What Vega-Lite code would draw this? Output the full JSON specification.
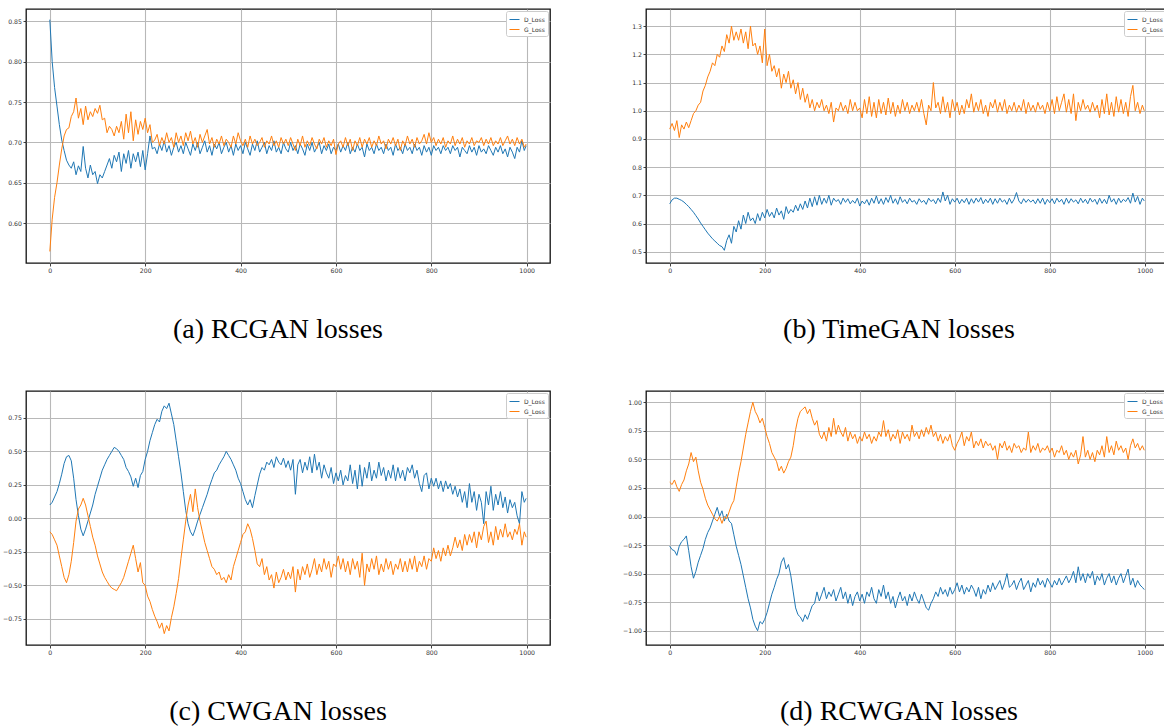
{
"$schema":"https://vega.github.io/schema/vega-lite/v6.json",
"padding":{"left":1,"top":8,"right":0,"bottom":0},
"background":"white",
"columns":2,
"spacing":{"row":128,"column":96},
"bounds":"flush",
"config":{
 "view":{"stroke":"#111","strokeWidth":1.3},
 "axis":{"domain":false,"grid":true,"gridColor":"#b8b8b8","gridWidth":1.1,"tickColor":"#111","tickSize":3,"tickWidth":0.8,"labelFont":"DejaVu Sans","labelFontSize":6.2,"labelColor":"#333","labelPadding":1.5,"title":null},
 "legend":{"orient":"top-right","offset":2,"padding":3,"fillColor":"white","strokeColor":"#cccccc","cornerRadius":2,"symbolType":"stroke","symbolSize":100,"symbolStrokeWidth":1.5,"labelFont":"DejaVu Sans","labelFontSize":6,"labelColor":"#333","rowPadding":1,"title":null},
 "line":{"strokeWidth":1}
},
"datasets":{
"a":[
{"x":0,"D_Loss":0.852,"G_Loss":0.565},{"x":5,"D_Loss":0.800,"G_Loss":0.605},{"x":10,"D_Loss":0.768,"G_Loss":0.632},{"x":15,"D_Loss":0.745,"G_Loss":0.650},{"x":20,"D_Loss":0.722,"G_Loss":0.672},{"x":25,"D_Loss":0.703,"G_Loss":0.692},{"x":30,"D_Loss":0.690,"G_Loss":0.708},{"x":35,"D_Loss":0.678,"G_Loss":0.716},{"x":40,"D_Loss":0.672,"G_Loss":0.718},{"x":45,"D_Loss":0.668,"G_Loss":0.732},
{"x":50,"D_Loss":0.676,"G_Loss":0.738},{"x":55,"D_Loss":0.660,"G_Loss":0.755},{"x":60,"D_Loss":0.671,"G_Loss":0.730},{"x":65,"D_Loss":0.664,"G_Loss":0.742},{"x":70,"D_Loss":0.695,"G_Loss":0.722},{"x":75,"D_Loss":0.668,"G_Loss":0.745},{"x":80,"D_Loss":0.656,"G_Loss":0.728},{"x":85,"D_Loss":0.672,"G_Loss":0.738},{"x":90,"D_Loss":0.660,"G_Loss":0.732},{"x":95,"D_Loss":0.664,"G_Loss":0.742},
{"x":100,"D_Loss":0.649,"G_Loss":0.736},{"x":105,"D_Loss":0.660,"G_Loss":0.746},{"x":110,"D_Loss":0.656,"G_Loss":0.728},{"x":115,"D_Loss":0.664,"G_Loss":0.730},{"x":120,"D_Loss":0.672,"G_Loss":0.712},{"x":125,"D_Loss":0.680,"G_Loss":0.720},{"x":130,"D_Loss":0.668,"G_Loss":0.716},{"x":135,"D_Loss":0.684,"G_Loss":0.708},{"x":140,"D_Loss":0.676,"G_Loss":0.720},{"x":145,"D_Loss":0.688,"G_Loss":0.712},
{"x":150,"D_Loss":0.664,"G_Loss":0.726},{"x":155,"D_Loss":0.686,"G_Loss":0.704},{"x":160,"D_Loss":0.674,"G_Loss":0.735},{"x":165,"D_Loss":0.690,"G_Loss":0.712},{"x":170,"D_Loss":0.668,"G_Loss":0.738},{"x":175,"D_Loss":0.686,"G_Loss":0.702},{"x":180,"D_Loss":0.676,"G_Loss":0.728},{"x":185,"D_Loss":0.688,"G_Loss":0.710},{"x":190,"D_Loss":0.670,"G_Loss":0.726},{"x":195,"D_Loss":0.690,"G_Loss":0.716},
{"x":200,"D_Loss":0.666,"G_Loss":0.730},{"x":205,"D_Loss":0.686,"G_Loss":0.712},{"x":210,"D_Loss":0.708,"G_Loss":0.722},{"x":215,"D_Loss":0.692,"G_Loss":0.700},{"x":220,"D_Loss":0.694,"G_Loss":0.703},{"x":225,"D_Loss":0.686,"G_Loss":0.710},{"x":230,"D_Loss":0.698,"G_Loss":0.696},{"x":235,"D_Loss":0.690,"G_Loss":0.706},{"x":240,"D_Loss":0.702,"G_Loss":0.698},{"x":245,"D_Loss":0.688,"G_Loss":0.712},
{"x":250,"D_Loss":0.696,"G_Loss":0.700},{"x":255,"D_Loss":0.684,"G_Loss":0.706},{"x":260,"D_Loss":0.694,"G_Loss":0.694},{"x":265,"D_Loss":0.700,"G_Loss":0.712},{"x":270,"D_Loss":0.688,"G_Loss":0.700},{"x":275,"D_Loss":0.696,"G_Loss":0.708},{"x":280,"D_Loss":0.686,"G_Loss":0.696},{"x":285,"D_Loss":0.700,"G_Loss":0.712},{"x":290,"D_Loss":0.692,"G_Loss":0.702},{"x":295,"D_Loss":0.684,"G_Loss":0.714},
{"x":300,"D_Loss":0.698,"G_Loss":0.698},{"x":305,"D_Loss":0.690,"G_Loss":0.706},{"x":310,"D_Loss":0.700,"G_Loss":0.694},{"x":315,"D_Loss":0.686,"G_Loss":0.710},{"x":320,"D_Loss":0.694,"G_Loss":0.700},{"x":325,"D_Loss":0.702,"G_Loss":0.708},{"x":330,"D_Loss":0.688,"G_Loss":0.716},{"x":335,"D_Loss":0.696,"G_Loss":0.698},{"x":340,"D_Loss":0.684,"G_Loss":0.706},{"x":345,"D_Loss":0.698,"G_Loss":0.694},
{"x":350,"D_Loss":0.692,"G_Loss":0.704},{"x":355,"D_Loss":0.700,"G_Loss":0.698},{"x":360,"D_Loss":0.686,"G_Loss":0.708},{"x":365,"D_Loss":0.694,"G_Loss":0.696},{"x":370,"D_Loss":0.700,"G_Loss":0.704},{"x":375,"D_Loss":0.688,"G_Loss":0.700},{"x":380,"D_Loss":0.696,"G_Loss":0.694},{"x":385,"D_Loss":0.684,"G_Loss":0.708},{"x":390,"D_Loss":0.698,"G_Loss":0.698},{"x":395,"D_Loss":0.690,"G_Loss":0.712},
{"x":400,"D_Loss":0.696,"G_Loss":0.702},{"x":405,"D_Loss":0.686,"G_Loss":0.696},{"x":410,"D_Loss":0.700,"G_Loss":0.704},{"x":415,"D_Loss":0.692,"G_Loss":0.694},{"x":420,"D_Loss":0.684,"G_Loss":0.708},{"x":425,"D_Loss":0.698,"G_Loss":0.698},{"x":430,"D_Loss":0.690,"G_Loss":0.704},{"x":435,"D_Loss":0.702,"G_Loss":0.696},{"x":440,"D_Loss":0.688,"G_Loss":0.700},{"x":445,"D_Loss":0.694,"G_Loss":0.706},
{"x":450,"D_Loss":0.700,"G_Loss":0.694},{"x":455,"D_Loss":0.686,"G_Loss":0.702},{"x":460,"D_Loss":0.696,"G_Loss":0.698},{"x":465,"D_Loss":0.690,"G_Loss":0.708},{"x":470,"D_Loss":0.702,"G_Loss":0.696},{"x":475,"D_Loss":0.688,"G_Loss":0.702},{"x":480,"D_Loss":0.694,"G_Loss":0.694},{"x":485,"D_Loss":0.686,"G_Loss":0.706},{"x":490,"D_Loss":0.700,"G_Loss":0.698},{"x":495,"D_Loss":0.692,"G_Loss":0.704},
{"x":500,"D_Loss":0.688,"G_Loss":0.696},{"x":505,"D_Loss":0.700,"G_Loss":0.706},{"x":510,"D_Loss":0.690,"G_Loss":0.698},{"x":515,"D_Loss":0.696,"G_Loss":0.690},{"x":520,"D_Loss":0.686,"G_Loss":0.704},{"x":525,"D_Loss":0.698,"G_Loss":0.696},{"x":530,"D_Loss":0.692,"G_Loss":0.708},{"x":535,"D_Loss":0.684,"G_Loss":0.694},{"x":540,"D_Loss":0.698,"G_Loss":0.702},{"x":545,"D_Loss":0.690,"G_Loss":0.696},
{"x":550,"D_Loss":0.700,"G_Loss":0.706},{"x":555,"D_Loss":0.688,"G_Loss":0.698},{"x":560,"D_Loss":0.694,"G_Loss":0.692},{"x":565,"D_Loss":0.700,"G_Loss":0.704},{"x":570,"D_Loss":0.686,"G_Loss":0.698},{"x":575,"D_Loss":0.696,"G_Loss":0.706},{"x":580,"D_Loss":0.690,"G_Loss":0.694},{"x":585,"D_Loss":0.698,"G_Loss":0.702},{"x":590,"D_Loss":0.686,"G_Loss":0.696},{"x":595,"D_Loss":0.694,"G_Loss":0.704},
{"x":600,"D_Loss":0.690,"G_Loss":0.685},{"x":605,"D_Loss":0.698,"G_Loss":0.698},{"x":610,"D_Loss":0.688,"G_Loss":0.702},{"x":615,"D_Loss":0.696,"G_Loss":0.694},{"x":620,"D_Loss":0.690,"G_Loss":0.706},{"x":625,"D_Loss":0.700,"G_Loss":0.696},{"x":630,"D_Loss":0.686,"G_Loss":0.704},{"x":635,"D_Loss":0.694,"G_Loss":0.690},{"x":640,"D_Loss":0.688,"G_Loss":0.702},{"x":645,"D_Loss":0.698,"G_Loss":0.696},
{"x":650,"D_Loss":0.690,"G_Loss":0.706},{"x":655,"D_Loss":0.694,"G_Loss":0.694},{"x":660,"D_Loss":0.682,"G_Loss":0.704},{"x":665,"D_Loss":0.698,"G_Loss":0.698},{"x":670,"D_Loss":0.690,"G_Loss":0.706},{"x":675,"D_Loss":0.694,"G_Loss":0.694},{"x":680,"D_Loss":0.686,"G_Loss":0.702},{"x":685,"D_Loss":0.698,"G_Loss":0.696},{"x":690,"D_Loss":0.690,"G_Loss":0.708},{"x":695,"D_Loss":0.694,"G_Loss":0.698},
{"x":700,"D_Loss":0.686,"G_Loss":0.702},{"x":705,"D_Loss":0.698,"G_Loss":0.692},{"x":710,"D_Loss":0.690,"G_Loss":0.704},{"x":715,"D_Loss":0.694,"G_Loss":0.698},{"x":720,"D_Loss":0.684,"G_Loss":0.706},{"x":725,"D_Loss":0.698,"G_Loss":0.696},{"x":730,"D_Loss":0.690,"G_Loss":0.704},{"x":735,"D_Loss":0.694,"G_Loss":0.690},{"x":740,"D_Loss":0.686,"G_Loss":0.702},{"x":745,"D_Loss":0.698,"G_Loss":0.696},
{"x":750,"D_Loss":0.690,"G_Loss":0.708},{"x":755,"D_Loss":0.694,"G_Loss":0.698},{"x":760,"D_Loss":0.686,"G_Loss":0.704},{"x":765,"D_Loss":0.698,"G_Loss":0.694},{"x":770,"D_Loss":0.690,"G_Loss":0.706},{"x":775,"D_Loss":0.694,"G_Loss":0.698},{"x":780,"D_Loss":0.684,"G_Loss":0.702},{"x":785,"D_Loss":0.696,"G_Loss":0.710},{"x":790,"D_Loss":0.688,"G_Loss":0.698},{"x":795,"D_Loss":0.694,"G_Loss":0.712},
{"x":800,"D_Loss":0.684,"G_Loss":0.700},{"x":805,"D_Loss":0.696,"G_Loss":0.706},{"x":810,"D_Loss":0.690,"G_Loss":0.696},{"x":815,"D_Loss":0.694,"G_Loss":0.704},{"x":820,"D_Loss":0.686,"G_Loss":0.698},{"x":825,"D_Loss":0.696,"G_Loss":0.706},{"x":830,"D_Loss":0.690,"G_Loss":0.694},{"x":835,"D_Loss":0.694,"G_Loss":0.702},{"x":840,"D_Loss":0.686,"G_Loss":0.698},{"x":845,"D_Loss":0.696,"G_Loss":0.708},
{"x":850,"D_Loss":0.690,"G_Loss":0.696},{"x":855,"D_Loss":0.694,"G_Loss":0.704},{"x":860,"D_Loss":0.682,"G_Loss":0.698},{"x":865,"D_Loss":0.694,"G_Loss":0.706},{"x":870,"D_Loss":0.690,"G_Loss":0.694},{"x":875,"D_Loss":0.686,"G_Loss":0.702},{"x":880,"D_Loss":0.696,"G_Loss":0.698},{"x":885,"D_Loss":0.688,"G_Loss":0.706},{"x":890,"D_Loss":0.694,"G_Loss":0.696},{"x":895,"D_Loss":0.684,"G_Loss":0.702},
{"x":900,"D_Loss":0.696,"G_Loss":0.700},{"x":905,"D_Loss":0.688,"G_Loss":0.706},{"x":910,"D_Loss":0.692,"G_Loss":0.696},{"x":915,"D_Loss":0.686,"G_Loss":0.704},{"x":920,"D_Loss":0.696,"G_Loss":0.698},{"x":925,"D_Loss":0.690,"G_Loss":0.706},{"x":930,"D_Loss":0.684,"G_Loss":0.696},{"x":935,"D_Loss":0.694,"G_Loss":0.702},{"x":940,"D_Loss":0.688,"G_Loss":0.698},{"x":945,"D_Loss":0.696,"G_Loss":0.706},
{"x":950,"D_Loss":0.686,"G_Loss":0.696},{"x":955,"D_Loss":0.692,"G_Loss":0.702},{"x":960,"D_Loss":0.682,"G_Loss":0.708},{"x":965,"D_Loss":0.694,"G_Loss":0.698},{"x":970,"D_Loss":0.688,"G_Loss":0.704},{"x":975,"D_Loss":0.680,"G_Loss":0.696},{"x":980,"D_Loss":0.694,"G_Loss":0.706},{"x":985,"D_Loss":0.688,"G_Loss":0.698},{"x":990,"D_Loss":0.702,"G_Loss":0.704},{"x":995,"D_Loss":0.690,"G_Loss":0.694},{"x":999,"D_Loss":0.696,"G_Loss":0.698}
],
"b":[
{"x":0,"D_Loss":0.670,"G_Loss":0.935},{"x":5,"D_Loss":0.684,"G_Loss":0.955},{"x":10,"D_Loss":0.690,"G_Loss":0.930},{"x":15,"D_Loss":0.690,"G_Loss":0.965},{"x":20,"D_Loss":0.686,"G_Loss":0.905},{"x":25,"D_Loss":0.682,"G_Loss":0.950},{"x":30,"D_Loss":0.676,"G_Loss":0.935},{"x":35,"D_Loss":0.668,"G_Loss":0.960},{"x":40,"D_Loss":0.660,"G_Loss":0.940},{"x":45,"D_Loss":0.650,"G_Loss":0.965},
{"x":50,"D_Loss":0.640,"G_Loss":0.990},{"x":55,"D_Loss":0.628,"G_Loss":1.000},{"x":60,"D_Loss":0.616,"G_Loss":1.020},{"x":65,"D_Loss":0.602,"G_Loss":1.030},{"x":70,"D_Loss":0.590,"G_Loss":1.070},{"x":75,"D_Loss":0.578,"G_Loss":1.090},{"x":80,"D_Loss":0.566,"G_Loss":1.120},{"x":85,"D_Loss":0.556,"G_Loss":1.140},{"x":90,"D_Loss":0.546,"G_Loss":1.170},{"x":95,"D_Loss":0.538,"G_Loss":1.160},
{"x":100,"D_Loss":0.530,"G_Loss":1.200},{"x":105,"D_Loss":0.522,"G_Loss":1.190},{"x":110,"D_Loss":0.518,"G_Loss":1.230},{"x":115,"D_Loss":0.505,"G_Loss":1.210},{"x":120,"D_Loss":0.540,"G_Loss":1.270},{"x":125,"D_Loss":0.560,"G_Loss":1.240},{"x":130,"D_Loss":0.530,"G_Loss":1.300},{"x":135,"D_Loss":0.590,"G_Loss":1.250},{"x":140,"D_Loss":0.570,"G_Loss":1.280},{"x":145,"D_Loss":0.610,"G_Loss":1.250},
{"x":150,"D_Loss":0.580,"G_Loss":1.290},{"x":155,"D_Loss":0.630,"G_Loss":1.240},{"x":160,"D_Loss":0.600,"G_Loss":1.280},{"x":165,"D_Loss":0.640,"G_Loss":1.220},{"x":170,"D_Loss":0.610,"G_Loss":1.300},{"x":175,"D_Loss":0.620,"G_Loss":1.230},{"x":180,"D_Loss":0.600,"G_Loss":1.240},{"x":185,"D_Loss":0.635,"G_Loss":1.200},{"x":190,"D_Loss":0.610,"G_Loss":1.230},{"x":195,"D_Loss":0.640,"G_Loss":1.170},
{"x":200,"D_Loss":0.620,"G_Loss":1.290},{"x":205,"D_Loss":0.650,"G_Loss":1.160},{"x":210,"D_Loss":0.625,"G_Loss":1.200},{"x":215,"D_Loss":0.640,"G_Loss":1.140},{"x":220,"D_Loss":0.620,"G_Loss":1.160},{"x":225,"D_Loss":0.655,"G_Loss":1.120},{"x":230,"D_Loss":0.630,"G_Loss":1.150},{"x":235,"D_Loss":0.645,"G_Loss":1.080},{"x":240,"D_Loss":0.615,"G_Loss":1.130},{"x":245,"D_Loss":0.660,"G_Loss":1.100},
{"x":250,"D_Loss":0.635,"G_Loss":1.140},{"x":255,"D_Loss":0.650,"G_Loss":1.080},{"x":260,"D_Loss":0.640,"G_Loss":1.110},{"x":265,"D_Loss":0.665,"G_Loss":1.060},{"x":270,"D_Loss":0.645,"G_Loss":1.100},{"x":275,"D_Loss":0.670,"G_Loss":1.040},{"x":280,"D_Loss":0.650,"G_Loss":1.080},{"x":285,"D_Loss":0.680,"G_Loss":1.030},{"x":290,"D_Loss":0.655,"G_Loss":1.060},{"x":295,"D_Loss":0.690,"G_Loss":1.010},
{"x":300,"D_Loss":0.660,"G_Loss":1.040},{"x":305,"D_Loss":0.695,"G_Loss":1.000},{"x":310,"D_Loss":0.665,"G_Loss":1.030},{"x":315,"D_Loss":0.700,"G_Loss":1.010},{"x":320,"D_Loss":0.668,"G_Loss":1.040},{"x":325,"D_Loss":0.690,"G_Loss":1.000},{"x":330,"D_Loss":0.672,"G_Loss":1.020},{"x":335,"D_Loss":0.700,"G_Loss":0.990},{"x":340,"D_Loss":0.665,"G_Loss":1.030},{"x":345,"D_Loss":0.690,"G_Loss":0.960},
{"x":350,"D_Loss":0.678,"G_Loss":1.010},{"x":355,"D_Loss":0.685,"G_Loss":1.000},{"x":360,"D_Loss":0.668,"G_Loss":1.030},{"x":365,"D_Loss":0.690,"G_Loss":1.000},{"x":370,"D_Loss":0.675,"G_Loss":1.020},{"x":375,"D_Loss":0.688,"G_Loss":0.990},{"x":380,"D_Loss":0.670,"G_Loss":1.040},{"x":385,"D_Loss":0.682,"G_Loss":1.000},{"x":390,"D_Loss":0.672,"G_Loss":1.030},{"x":395,"D_Loss":0.690,"G_Loss":1.000},
{"x":400,"D_Loss":0.662,"G_Loss":1.010},{"x":405,"D_Loss":0.680,"G_Loss":0.975},{"x":410,"D_Loss":0.670,"G_Loss":1.040},{"x":415,"D_Loss":0.685,"G_Loss":0.990},{"x":420,"D_Loss":0.665,"G_Loss":1.050},{"x":425,"D_Loss":0.690,"G_Loss":0.980},{"x":430,"D_Loss":0.672,"G_Loss":1.030},{"x":435,"D_Loss":0.698,"G_Loss":0.975},{"x":440,"D_Loss":0.670,"G_Loss":1.040},{"x":445,"D_Loss":0.688,"G_Loss":0.990},
{"x":450,"D_Loss":0.668,"G_Loss":1.030},{"x":455,"D_Loss":0.692,"G_Loss":0.985},{"x":460,"D_Loss":0.675,"G_Loss":1.045},{"x":465,"D_Loss":0.700,"G_Loss":0.990},{"x":470,"D_Loss":0.672,"G_Loss":1.030},{"x":475,"D_Loss":0.688,"G_Loss":0.980},{"x":480,"D_Loss":0.668,"G_Loss":1.020},{"x":485,"D_Loss":0.695,"G_Loss":0.990},{"x":490,"D_Loss":0.675,"G_Loss":1.040},{"x":495,"D_Loss":0.685,"G_Loss":1.000},
{"x":500,"D_Loss":0.670,"G_Loss":1.030},{"x":505,"D_Loss":0.690,"G_Loss":0.990},{"x":510,"D_Loss":0.676,"G_Loss":1.020},{"x":515,"D_Loss":0.682,"G_Loss":1.000},{"x":520,"D_Loss":0.668,"G_Loss":1.030},{"x":525,"D_Loss":0.688,"G_Loss":0.995},{"x":530,"D_Loss":0.675,"G_Loss":1.040},{"x":535,"D_Loss":0.682,"G_Loss":0.990},{"x":540,"D_Loss":0.668,"G_Loss":0.950},{"x":545,"D_Loss":0.690,"G_Loss":1.020},
{"x":550,"D_Loss":0.678,"G_Loss":1.000},{"x":555,"D_Loss":0.685,"G_Loss":1.100},{"x":560,"D_Loss":0.670,"G_Loss":1.010},{"x":565,"D_Loss":0.690,"G_Loss":1.030},{"x":570,"D_Loss":0.675,"G_Loss":0.990},{"x":575,"D_Loss":0.712,"G_Loss":1.050},{"x":580,"D_Loss":0.680,"G_Loss":0.995},{"x":585,"D_Loss":0.700,"G_Loss":1.030},{"x":590,"D_Loss":0.668,"G_Loss":0.975},{"x":595,"D_Loss":0.688,"G_Loss":1.040},
{"x":600,"D_Loss":0.676,"G_Loss":1.000},{"x":605,"D_Loss":0.690,"G_Loss":1.030},{"x":610,"D_Loss":0.670,"G_Loss":0.985},{"x":615,"D_Loss":0.686,"G_Loss":1.020},{"x":620,"D_Loss":0.674,"G_Loss":0.990},{"x":625,"D_Loss":0.690,"G_Loss":1.040},{"x":630,"D_Loss":0.668,"G_Loss":1.010},{"x":635,"D_Loss":0.688,"G_Loss":1.060},{"x":640,"D_Loss":0.672,"G_Loss":0.995},{"x":645,"D_Loss":0.690,"G_Loss":1.030},
{"x":650,"D_Loss":0.676,"G_Loss":1.000},{"x":655,"D_Loss":0.692,"G_Loss":1.040},{"x":660,"D_Loss":0.670,"G_Loss":0.990},{"x":665,"D_Loss":0.686,"G_Loss":1.020},{"x":670,"D_Loss":0.674,"G_Loss":0.980},{"x":675,"D_Loss":0.690,"G_Loss":1.030},{"x":680,"D_Loss":0.668,"G_Loss":1.010},{"x":685,"D_Loss":0.688,"G_Loss":1.040},{"x":690,"D_Loss":0.672,"G_Loss":0.995},{"x":695,"D_Loss":0.690,"G_Loss":1.030},
{"x":700,"D_Loss":0.676,"G_Loss":1.000},{"x":705,"D_Loss":0.684,"G_Loss":1.040},{"x":710,"D_Loss":0.668,"G_Loss":0.990},{"x":715,"D_Loss":0.690,"G_Loss":1.020},{"x":720,"D_Loss":0.672,"G_Loss":1.000},{"x":725,"D_Loss":0.686,"G_Loss":1.030},{"x":730,"D_Loss":0.710,"G_Loss":0.995},{"x":735,"D_Loss":0.680,"G_Loss":1.020},{"x":740,"D_Loss":0.670,"G_Loss":1.000},{"x":745,"D_Loss":0.688,"G_Loss":1.040},
{"x":750,"D_Loss":0.675,"G_Loss":0.990},{"x":755,"D_Loss":0.686,"G_Loss":1.030},{"x":760,"D_Loss":0.676,"G_Loss":1.000},{"x":765,"D_Loss":0.684,"G_Loss":1.020},{"x":770,"D_Loss":0.670,"G_Loss":0.995},{"x":775,"D_Loss":0.688,"G_Loss":1.030},{"x":780,"D_Loss":0.672,"G_Loss":1.005},{"x":785,"D_Loss":0.690,"G_Loss":1.020},{"x":790,"D_Loss":0.668,"G_Loss":0.990},{"x":795,"D_Loss":0.686,"G_Loss":1.030},
{"x":800,"D_Loss":0.674,"G_Loss":1.000},{"x":805,"D_Loss":0.688,"G_Loss":1.040},{"x":810,"D_Loss":0.670,"G_Loss":0.990},{"x":815,"D_Loss":0.690,"G_Loss":1.050},{"x":820,"D_Loss":0.676,"G_Loss":1.000},{"x":825,"D_Loss":0.686,"G_Loss":1.030},{"x":830,"D_Loss":0.668,"G_Loss":1.060},{"x":835,"D_Loss":0.690,"G_Loss":0.995},{"x":840,"D_Loss":0.672,"G_Loss":1.040},{"x":845,"D_Loss":0.688,"G_Loss":0.990},
{"x":850,"D_Loss":0.676,"G_Loss":1.060},{"x":855,"D_Loss":0.684,"G_Loss":0.965},{"x":860,"D_Loss":0.670,"G_Loss":1.030},{"x":865,"D_Loss":0.690,"G_Loss":1.000},{"x":870,"D_Loss":0.674,"G_Loss":1.040},{"x":875,"D_Loss":0.686,"G_Loss":1.005},{"x":880,"D_Loss":0.670,"G_Loss":1.020},{"x":885,"D_Loss":0.690,"G_Loss":0.995},{"x":890,"D_Loss":0.676,"G_Loss":1.030},{"x":895,"D_Loss":0.686,"G_Loss":1.000},
{"x":900,"D_Loss":0.668,"G_Loss":1.020},{"x":905,"D_Loss":0.690,"G_Loss":0.975},{"x":910,"D_Loss":0.672,"G_Loss":1.040},{"x":915,"D_Loss":0.686,"G_Loss":0.990},{"x":920,"D_Loss":0.670,"G_Loss":1.060},{"x":925,"D_Loss":0.700,"G_Loss":0.985},{"x":930,"D_Loss":0.676,"G_Loss":1.030},{"x":935,"D_Loss":0.688,"G_Loss":0.980},{"x":940,"D_Loss":0.668,"G_Loss":1.050},{"x":945,"D_Loss":0.690,"G_Loss":0.995},
{"x":950,"D_Loss":0.674,"G_Loss":1.040},{"x":955,"D_Loss":0.686,"G_Loss":0.990},{"x":960,"D_Loss":0.678,"G_Loss":1.030},{"x":965,"D_Loss":0.692,"G_Loss":0.980},{"x":970,"D_Loss":0.672,"G_Loss":1.050},{"x":975,"D_Loss":0.708,"G_Loss":1.090},{"x":980,"D_Loss":0.676,"G_Loss":1.000},{"x":985,"D_Loss":0.696,"G_Loss":1.030},{"x":990,"D_Loss":0.668,"G_Loss":0.990},{"x":995,"D_Loss":0.690,"G_Loss":1.020},{"x":999,"D_Loss":0.680,"G_Loss":1.000}
],
"c":[
{"x":0,"D_Loss":0.10,"G_Loss":-0.10},{"x":5,"D_Loss":0.12,"G_Loss":-0.12},{"x":10,"D_Loss":0.16,"G_Loss":-0.16},{"x":15,"D_Loss":0.20,"G_Loss":-0.20},{"x":20,"D_Loss":0.26,"G_Loss":-0.28},{"x":25,"D_Loss":0.33,"G_Loss":-0.36},{"x":30,"D_Loss":0.41,"G_Loss":-0.44},{"x":35,"D_Loss":0.46,"G_Loss":-0.48},{"x":40,"D_Loss":0.47,"G_Loss":-0.42},{"x":45,"D_Loss":0.43,"G_Loss":-0.32},
{"x":50,"D_Loss":0.30,"G_Loss":-0.18},{"x":55,"D_Loss":0.14,"G_Loss":-0.02},{"x":60,"D_Loss":0.02,"G_Loss":0.07},{"x":65,"D_Loss":-0.08,"G_Loss":0.10},{"x":70,"D_Loss":-0.13,"G_Loss":0.15},{"x":75,"D_Loss":-0.08,"G_Loss":0.10},{"x":80,"D_Loss":-0.02,"G_Loss":0.02},{"x":85,"D_Loss":0.04,"G_Loss":-0.06},{"x":90,"D_Loss":0.10,"G_Loss":-0.14},{"x":95,"D_Loss":0.18,"G_Loss":-0.20},
{"x":100,"D_Loss":0.24,"G_Loss":-0.28},{"x":105,"D_Loss":0.30,"G_Loss":-0.34},{"x":110,"D_Loss":0.36,"G_Loss":-0.40},{"x":115,"D_Loss":0.40,"G_Loss":-0.44},{"x":120,"D_Loss":0.44,"G_Loss":-0.47},{"x":125,"D_Loss":0.47,"G_Loss":-0.50},{"x":130,"D_Loss":0.50,"G_Loss":-0.52},{"x":135,"D_Loss":0.53,"G_Loss":-0.53},{"x":140,"D_Loss":0.52,"G_Loss":-0.54},{"x":145,"D_Loss":0.50,"G_Loss":-0.51},
{"x":150,"D_Loss":0.47,"G_Loss":-0.48},{"x":155,"D_Loss":0.44,"G_Loss":-0.44},{"x":160,"D_Loss":0.38,"G_Loss":-0.38},{"x":165,"D_Loss":0.35,"G_Loss":-0.32},{"x":170,"D_Loss":0.31,"G_Loss":-0.26},{"x":175,"D_Loss":0.24,"G_Loss":-0.20},{"x":180,"D_Loss":0.30,"G_Loss":-0.30},{"x":185,"D_Loss":0.23,"G_Loss":-0.40},{"x":190,"D_Loss":0.32,"G_Loss":-0.33},{"x":195,"D_Loss":0.35,"G_Loss":-0.48},
{"x":200,"D_Loss":0.44,"G_Loss":-0.50},{"x":205,"D_Loss":0.50,"G_Loss":-0.58},{"x":210,"D_Loss":0.58,"G_Loss":-0.62},{"x":215,"D_Loss":0.64,"G_Loss":-0.68},{"x":220,"D_Loss":0.70,"G_Loss":-0.73},{"x":225,"D_Loss":0.74,"G_Loss":-0.77},{"x":230,"D_Loss":0.72,"G_Loss":-0.82},{"x":235,"D_Loss":0.80,"G_Loss":-0.78},{"x":240,"D_Loss":0.84,"G_Loss":-0.86},{"x":245,"D_Loss":0.82,"G_Loss":-0.80},
{"x":250,"D_Loss":0.86,"G_Loss":-0.84},{"x":255,"D_Loss":0.78,"G_Loss":-0.74},{"x":260,"D_Loss":0.70,"G_Loss":-0.66},{"x":265,"D_Loss":0.58,"G_Loss":-0.56},{"x":270,"D_Loss":0.46,"G_Loss":-0.45},{"x":275,"D_Loss":0.34,"G_Loss":-0.30},{"x":280,"D_Loss":0.20,"G_Loss":-0.16},{"x":285,"D_Loss":0.06,"G_Loss":-0.02},{"x":290,"D_Loss":-0.04,"G_Loss":0.10},{"x":295,"D_Loss":-0.10,"G_Loss":0.18},
{"x":300,"D_Loss":-0.13,"G_Loss":0.05},{"x":305,"D_Loss":-0.08,"G_Loss":0.22},{"x":310,"D_Loss":-0.02,"G_Loss":0.08},{"x":315,"D_Loss":0.03,"G_Loss":-0.02},{"x":320,"D_Loss":0.08,"G_Loss":-0.10},{"x":325,"D_Loss":0.13,"G_Loss":-0.18},{"x":330,"D_Loss":0.18,"G_Loss":-0.24},{"x":335,"D_Loss":0.24,"G_Loss":-0.30},{"x":340,"D_Loss":0.29,"G_Loss":-0.36},{"x":345,"D_Loss":0.34,"G_Loss":-0.38},
{"x":350,"D_Loss":0.36,"G_Loss":-0.42},{"x":355,"D_Loss":0.40,"G_Loss":-0.40},{"x":360,"D_Loss":0.43,"G_Loss":-0.46},{"x":365,"D_Loss":0.46,"G_Loss":-0.44},{"x":370,"D_Loss":0.50,"G_Loss":-0.48},{"x":375,"D_Loss":0.47,"G_Loss":-0.42},{"x":380,"D_Loss":0.44,"G_Loss":-0.46},{"x":385,"D_Loss":0.40,"G_Loss":-0.36},{"x":390,"D_Loss":0.36,"G_Loss":-0.30},{"x":395,"D_Loss":0.30,"G_Loss":-0.24},
{"x":400,"D_Loss":0.26,"G_Loss":-0.18},{"x":405,"D_Loss":0.20,"G_Loss":-0.12},{"x":410,"D_Loss":0.14,"G_Loss":-0.10},{"x":415,"D_Loss":0.10,"G_Loss":-0.04},{"x":420,"D_Loss":0.14,"G_Loss":-0.08},{"x":425,"D_Loss":0.08,"G_Loss":-0.15},{"x":430,"D_Loss":0.17,"G_Loss":-0.24},{"x":435,"D_Loss":0.25,"G_Loss":-0.34},{"x":440,"D_Loss":0.33,"G_Loss":-0.36},{"x":445,"D_Loss":0.38,"G_Loss":-0.30},
{"x":450,"D_Loss":0.36,"G_Loss":-0.42},{"x":455,"D_Loss":0.42,"G_Loss":-0.36},{"x":460,"D_Loss":0.40,"G_Loss":-0.46},{"x":465,"D_Loss":0.44,"G_Loss":-0.42},{"x":470,"D_Loss":0.38,"G_Loss":-0.52},{"x":475,"D_Loss":0.46,"G_Loss":-0.40},{"x":480,"D_Loss":0.42,"G_Loss":-0.48},{"x":485,"D_Loss":0.40,"G_Loss":-0.44},{"x":490,"D_Loss":0.45,"G_Loss":-0.38},{"x":495,"D_Loss":0.38,"G_Loss":-0.46},
{"x":500,"D_Loss":0.43,"G_Loss":-0.40},{"x":505,"D_Loss":0.36,"G_Loss":-0.45},{"x":510,"D_Loss":0.44,"G_Loss":-0.36},{"x":515,"D_Loss":0.18,"G_Loss":-0.55},{"x":520,"D_Loss":0.40,"G_Loss":-0.38},{"x":525,"D_Loss":0.44,"G_Loss":-0.46},{"x":530,"D_Loss":0.34,"G_Loss":-0.36},{"x":535,"D_Loss":0.42,"G_Loss":-0.42},{"x":540,"D_Loss":0.36,"G_Loss":-0.34},{"x":545,"D_Loss":0.46,"G_Loss":-0.44},
{"x":550,"D_Loss":0.34,"G_Loss":-0.38},{"x":555,"D_Loss":0.48,"G_Loss":-0.30},{"x":560,"D_Loss":0.36,"G_Loss":-0.42},{"x":565,"D_Loss":0.42,"G_Loss":-0.34},{"x":570,"D_Loss":0.30,"G_Loss":-0.40},{"x":575,"D_Loss":0.40,"G_Loss":-0.30},{"x":580,"D_Loss":0.34,"G_Loss":-0.38},{"x":585,"D_Loss":0.30,"G_Loss":-0.32},{"x":590,"D_Loss":0.38,"G_Loss":-0.44},{"x":595,"D_Loss":0.26,"G_Loss":-0.34},
{"x":600,"D_Loss":0.34,"G_Loss":-0.36},{"x":605,"D_Loss":0.28,"G_Loss":-0.28},{"x":610,"D_Loss":0.36,"G_Loss":-0.38},{"x":615,"D_Loss":0.25,"G_Loss":-0.30},{"x":620,"D_Loss":0.32,"G_Loss":-0.40},{"x":625,"D_Loss":0.28,"G_Loss":-0.32},{"x":630,"D_Loss":0.40,"G_Loss":-0.42},{"x":635,"D_Loss":0.26,"G_Loss":-0.30},{"x":640,"D_Loss":0.36,"G_Loss":-0.38},{"x":645,"D_Loss":0.22,"G_Loss":-0.32},
{"x":650,"D_Loss":0.40,"G_Loss":-0.44},{"x":655,"D_Loss":0.24,"G_Loss":-0.26},{"x":660,"D_Loss":0.38,"G_Loss":-0.50},{"x":665,"D_Loss":0.30,"G_Loss":-0.34},{"x":670,"D_Loss":0.42,"G_Loss":-0.40},{"x":675,"D_Loss":0.28,"G_Loss":-0.30},{"x":680,"D_Loss":0.36,"G_Loss":-0.38},{"x":685,"D_Loss":0.30,"G_Loss":-0.28},{"x":690,"D_Loss":0.42,"G_Loss":-0.42},{"x":695,"D_Loss":0.32,"G_Loss":-0.34},
{"x":700,"D_Loss":0.38,"G_Loss":-0.40},{"x":705,"D_Loss":0.28,"G_Loss":-0.30},{"x":710,"D_Loss":0.36,"G_Loss":-0.38},{"x":715,"D_Loss":0.30,"G_Loss":-0.32},{"x":720,"D_Loss":0.40,"G_Loss":-0.42},{"x":725,"D_Loss":0.28,"G_Loss":-0.34},{"x":730,"D_Loss":0.38,"G_Loss":-0.38},{"x":735,"D_Loss":0.30,"G_Loss":-0.30},{"x":740,"D_Loss":0.36,"G_Loss":-0.40},{"x":745,"D_Loss":0.28,"G_Loss":-0.32},
{"x":750,"D_Loss":0.38,"G_Loss":-0.40},{"x":755,"D_Loss":0.34,"G_Loss":-0.30},{"x":760,"D_Loss":0.40,"G_Loss":-0.38},{"x":765,"D_Loss":0.30,"G_Loss":-0.28},{"x":770,"D_Loss":0.36,"G_Loss":-0.40},{"x":775,"D_Loss":0.26,"G_Loss":-0.32},{"x":780,"D_Loss":0.20,"G_Loss":-0.36},{"x":785,"D_Loss":0.32,"G_Loss":-0.28},{"x":790,"D_Loss":0.34,"G_Loss":-0.38},{"x":795,"D_Loss":0.22,"G_Loss":-0.30},
{"x":800,"D_Loss":0.30,"G_Loss":-0.32},{"x":805,"D_Loss":0.24,"G_Loss":-0.22},{"x":810,"D_Loss":0.30,"G_Loss":-0.30},{"x":815,"D_Loss":0.22,"G_Loss":-0.24},{"x":820,"D_Loss":0.28,"G_Loss":-0.32},{"x":825,"D_Loss":0.20,"G_Loss":-0.22},{"x":830,"D_Loss":0.28,"G_Loss":-0.28},{"x":835,"D_Loss":0.22,"G_Loss":-0.20},{"x":840,"D_Loss":0.26,"G_Loss":-0.28},{"x":845,"D_Loss":0.18,"G_Loss":-0.22},
{"x":850,"D_Loss":0.24,"G_Loss":-0.14},{"x":855,"D_Loss":0.16,"G_Loss":-0.22},{"x":860,"D_Loss":0.22,"G_Loss":-0.16},{"x":865,"D_Loss":0.12,"G_Loss":-0.24},{"x":870,"D_Loss":0.20,"G_Loss":-0.12},{"x":875,"D_Loss":0.08,"G_Loss":-0.20},{"x":880,"D_Loss":0.26,"G_Loss":-0.12},{"x":885,"D_Loss":0.12,"G_Loss":-0.18},{"x":890,"D_Loss":0.20,"G_Loss":-0.10},{"x":895,"D_Loss":0.06,"G_Loss":-0.22},
{"x":900,"D_Loss":0.18,"G_Loss":-0.10},{"x":905,"D_Loss":0.12,"G_Loss":-0.16},{"x":910,"D_Loss":-0.04,"G_Loss":-0.06},{"x":915,"D_Loss":0.20,"G_Loss":-0.02},{"x":920,"D_Loss":0.10,"G_Loss":-0.18},{"x":925,"D_Loss":0.24,"G_Loss":-0.10},{"x":930,"D_Loss":0.06,"G_Loss":-0.20},{"x":935,"D_Loss":0.18,"G_Loss":-0.06},{"x":940,"D_Loss":0.10,"G_Loss":-0.16},{"x":945,"D_Loss":0.20,"G_Loss":-0.08},
{"x":950,"D_Loss":0.08,"G_Loss":-0.14},{"x":955,"D_Loss":0.16,"G_Loss":-0.04},{"x":960,"D_Loss":0.04,"G_Loss":-0.14},{"x":965,"D_Loss":0.14,"G_Loss":-0.10},{"x":970,"D_Loss":0.08,"G_Loss":-0.16},{"x":975,"D_Loss":0.12,"G_Loss":-0.08},{"x":980,"D_Loss":0.02,"G_Loss":-0.12},{"x":985,"D_Loss":-0.04,"G_Loss":-0.04},{"x":990,"D_Loss":0.20,"G_Loss":-0.20},{"x":995,"D_Loss":0.12,"G_Loss":-0.10},{"x":999,"D_Loss":0.15,"G_Loss":-0.14}
],
"d":[
{"x":0,"D_Loss":-0.26,"G_Loss":0.30},{"x":5,"D_Loss":-0.29,"G_Loss":0.28},{"x":10,"D_Loss":-0.30,"G_Loss":0.32},{"x":15,"D_Loss":-0.34,"G_Loss":0.26},{"x":20,"D_Loss":-0.26,"G_Loss":0.22},{"x":25,"D_Loss":-0.22,"G_Loss":0.28},{"x":30,"D_Loss":-0.20,"G_Loss":0.32},{"x":35,"D_Loss":-0.17,"G_Loss":0.40},{"x":40,"D_Loss":-0.30,"G_Loss":0.46},{"x":45,"D_Loss":-0.44,"G_Loss":0.56},
{"x":50,"D_Loss":-0.54,"G_Loss":0.48},{"x":55,"D_Loss":-0.48,"G_Loss":0.52},{"x":60,"D_Loss":-0.40,"G_Loss":0.40},{"x":65,"D_Loss":-0.34,"G_Loss":0.30},{"x":70,"D_Loss":-0.28,"G_Loss":0.24},{"x":75,"D_Loss":-0.20,"G_Loss":0.16},{"x":80,"D_Loss":-0.14,"G_Loss":0.10},{"x":85,"D_Loss":-0.10,"G_Loss":0.06},{"x":90,"D_Loss":-0.04,"G_Loss":0.02},{"x":95,"D_Loss":0.02,"G_Loss":-0.02},
{"x":100,"D_Loss":0.08,"G_Loss":-0.04},{"x":105,"D_Loss":0.00,"G_Loss":0.00},{"x":110,"D_Loss":0.05,"G_Loss":-0.06},{"x":115,"D_Loss":-0.04,"G_Loss":0.00},{"x":120,"D_Loss":0.02,"G_Loss":-0.02},{"x":125,"D_Loss":-0.04,"G_Loss":0.04},{"x":130,"D_Loss":-0.06,"G_Loss":0.10},{"x":135,"D_Loss":-0.16,"G_Loss":0.14},{"x":140,"D_Loss":-0.26,"G_Loss":0.26},{"x":145,"D_Loss":-0.34,"G_Loss":0.38},
{"x":150,"D_Loss":-0.42,"G_Loss":0.48},{"x":155,"D_Loss":-0.52,"G_Loss":0.60},{"x":160,"D_Loss":-0.62,"G_Loss":0.72},{"x":165,"D_Loss":-0.72,"G_Loss":0.82},{"x":170,"D_Loss":-0.80,"G_Loss":0.92},{"x":175,"D_Loss":-0.90,"G_Loss":1.00},{"x":180,"D_Loss":-0.96,"G_Loss":0.92},{"x":185,"D_Loss":-1.00,"G_Loss":0.88},{"x":190,"D_Loss":-0.92,"G_Loss":0.82},{"x":195,"D_Loss":-0.94,"G_Loss":0.86},
{"x":200,"D_Loss":-0.90,"G_Loss":0.78},{"x":205,"D_Loss":-0.84,"G_Loss":0.70},{"x":210,"D_Loss":-0.76,"G_Loss":0.64},{"x":215,"D_Loss":-0.68,"G_Loss":0.56},{"x":220,"D_Loss":-0.62,"G_Loss":0.52},{"x":225,"D_Loss":-0.55,"G_Loss":0.48},{"x":230,"D_Loss":-0.50,"G_Loss":0.40},{"x":235,"D_Loss":-0.40,"G_Loss":0.44},{"x":240,"D_Loss":-0.36,"G_Loss":0.38},{"x":245,"D_Loss":-0.46,"G_Loss":0.42},
{"x":250,"D_Loss":-0.42,"G_Loss":0.48},{"x":255,"D_Loss":-0.52,"G_Loss":0.52},{"x":260,"D_Loss":-0.66,"G_Loss":0.62},{"x":265,"D_Loss":-0.80,"G_Loss":0.76},{"x":270,"D_Loss":-0.86,"G_Loss":0.86},{"x":275,"D_Loss":-0.88,"G_Loss":0.92},{"x":280,"D_Loss":-0.92,"G_Loss":0.94},{"x":285,"D_Loss":-0.86,"G_Loss":0.96},{"x":290,"D_Loss":-0.90,"G_Loss":0.90},{"x":295,"D_Loss":-0.84,"G_Loss":0.94},
{"x":300,"D_Loss":-0.78,"G_Loss":0.86},{"x":305,"D_Loss":-0.76,"G_Loss":0.80},{"x":310,"D_Loss":-0.66,"G_Loss":0.84},{"x":315,"D_Loss":-0.74,"G_Loss":0.72},{"x":320,"D_Loss":-0.68,"G_Loss":0.68},{"x":325,"D_Loss":-0.62,"G_Loss":0.74},{"x":330,"D_Loss":-0.72,"G_Loss":0.66},{"x":335,"D_Loss":-0.66,"G_Loss":0.78},{"x":340,"D_Loss":-0.70,"G_Loss":0.70},{"x":345,"D_Loss":-0.64,"G_Loss":0.86},
{"x":350,"D_Loss":-0.74,"G_Loss":0.72},{"x":355,"D_Loss":-0.68,"G_Loss":0.80},{"x":360,"D_Loss":-0.62,"G_Loss":0.74},{"x":365,"D_Loss":-0.72,"G_Loss":0.70},{"x":370,"D_Loss":-0.66,"G_Loss":0.78},{"x":375,"D_Loss":-0.76,"G_Loss":0.66},{"x":380,"D_Loss":-0.68,"G_Loss":0.74},{"x":385,"D_Loss":-0.78,"G_Loss":0.68},{"x":390,"D_Loss":-0.70,"G_Loss":0.72},{"x":395,"D_Loss":-0.66,"G_Loss":0.64},
{"x":400,"D_Loss":-0.74,"G_Loss":0.70},{"x":405,"D_Loss":-0.68,"G_Loss":0.66},{"x":410,"D_Loss":-0.76,"G_Loss":0.74},{"x":415,"D_Loss":-0.66,"G_Loss":0.68},{"x":420,"D_Loss":-0.70,"G_Loss":0.72},{"x":425,"D_Loss":-0.62,"G_Loss":0.64},{"x":430,"D_Loss":-0.72,"G_Loss":0.70},{"x":435,"D_Loss":-0.76,"G_Loss":0.66},{"x":440,"D_Loss":-0.64,"G_Loss":0.74},{"x":445,"D_Loss":-0.70,"G_Loss":0.70},
{"x":450,"D_Loss":-0.60,"G_Loss":0.84},{"x":455,"D_Loss":-0.72,"G_Loss":0.70},{"x":460,"D_Loss":-0.66,"G_Loss":0.76},{"x":465,"D_Loss":-0.76,"G_Loss":0.66},{"x":470,"D_Loss":-0.70,"G_Loss":0.72},{"x":475,"D_Loss":-0.80,"G_Loss":0.68},{"x":480,"D_Loss":-0.72,"G_Loss":0.76},{"x":485,"D_Loss":-0.66,"G_Loss":0.64},{"x":490,"D_Loss":-0.74,"G_Loss":0.74},{"x":495,"D_Loss":-0.70,"G_Loss":0.68},
{"x":500,"D_Loss":-0.78,"G_Loss":0.72},{"x":505,"D_Loss":-0.68,"G_Loss":0.66},{"x":510,"D_Loss":-0.74,"G_Loss":0.80},{"x":515,"D_Loss":-0.66,"G_Loss":0.70},{"x":520,"D_Loss":-0.72,"G_Loss":0.74},{"x":525,"D_Loss":-0.76,"G_Loss":0.68},{"x":530,"D_Loss":-0.68,"G_Loss":0.76},{"x":535,"D_Loss":-0.74,"G_Loss":0.70},{"x":540,"D_Loss":-0.80,"G_Loss":0.78},{"x":545,"D_Loss":-0.82,"G_Loss":0.72},
{"x":550,"D_Loss":-0.76,"G_Loss":0.80},{"x":555,"D_Loss":-0.72,"G_Loss":0.70},{"x":560,"D_Loss":-0.66,"G_Loss":0.74},{"x":565,"D_Loss":-0.70,"G_Loss":0.66},{"x":570,"D_Loss":-0.62,"G_Loss":0.72},{"x":575,"D_Loss":-0.68,"G_Loss":0.64},{"x":580,"D_Loss":-0.64,"G_Loss":0.70},{"x":585,"D_Loss":-0.70,"G_Loss":0.66},{"x":590,"D_Loss":-0.62,"G_Loss":0.72},{"x":595,"D_Loss":-0.68,"G_Loss":0.62},
{"x":600,"D_Loss":-0.64,"G_Loss":0.58},{"x":605,"D_Loss":-0.58,"G_Loss":0.64},{"x":610,"D_Loss":-0.66,"G_Loss":0.68},{"x":615,"D_Loss":-0.60,"G_Loss":0.74},{"x":620,"D_Loss":-0.68,"G_Loss":0.62},{"x":625,"D_Loss":-0.62,"G_Loss":0.70},{"x":630,"D_Loss":-0.66,"G_Loss":0.66},{"x":635,"D_Loss":-0.60,"G_Loss":0.74},{"x":640,"D_Loss":-0.64,"G_Loss":0.60},{"x":645,"D_Loss":-0.70,"G_Loss":0.66},
{"x":650,"D_Loss":-0.62,"G_Loss":0.62},{"x":655,"D_Loss":-0.72,"G_Loss":0.68},{"x":660,"D_Loss":-0.64,"G_Loss":0.60},{"x":665,"D_Loss":-0.68,"G_Loss":0.66},{"x":670,"D_Loss":-0.60,"G_Loss":0.62},{"x":675,"D_Loss":-0.66,"G_Loss":0.64},{"x":680,"D_Loss":-0.58,"G_Loss":0.58},{"x":685,"D_Loss":-0.64,"G_Loss":0.62},{"x":690,"D_Loss":-0.60,"G_Loss":0.50},{"x":695,"D_Loss":-0.56,"G_Loss":0.64},
{"x":700,"D_Loss":-0.64,"G_Loss":0.60},{"x":705,"D_Loss":-0.58,"G_Loss":0.66},{"x":710,"D_Loss":-0.50,"G_Loss":0.58},{"x":715,"D_Loss":-0.62,"G_Loss":0.62},{"x":720,"D_Loss":-0.60,"G_Loss":0.56},{"x":725,"D_Loss":-0.56,"G_Loss":0.64},{"x":730,"D_Loss":-0.64,"G_Loss":0.60},{"x":735,"D_Loss":-0.58,"G_Loss":0.62},{"x":740,"D_Loss":-0.54,"G_Loss":0.56},{"x":745,"D_Loss":-0.64,"G_Loss":0.60},
{"x":750,"D_Loss":-0.60,"G_Loss":0.58},{"x":755,"D_Loss":-0.56,"G_Loss":0.74},{"x":760,"D_Loss":-0.66,"G_Loss":0.56},{"x":765,"D_Loss":-0.58,"G_Loss":0.62},{"x":770,"D_Loss":-0.62,"G_Loss":0.58},{"x":775,"D_Loss":-0.54,"G_Loss":0.64},{"x":780,"D_Loss":-0.60,"G_Loss":0.56},{"x":785,"D_Loss":-0.56,"G_Loss":0.60},{"x":790,"D_Loss":-0.62,"G_Loss":0.58},{"x":795,"D_Loss":-0.54,"G_Loss":0.62},
{"x":800,"D_Loss":-0.58,"G_Loss":0.56},{"x":805,"D_Loss":-0.62,"G_Loss":0.60},{"x":810,"D_Loss":-0.56,"G_Loss":0.52},{"x":815,"D_Loss":-0.60,"G_Loss":0.58},{"x":820,"D_Loss":-0.54,"G_Loss":0.56},{"x":825,"D_Loss":-0.60,"G_Loss":0.62},{"x":830,"D_Loss":-0.56,"G_Loss":0.54},{"x":835,"D_Loss":-0.52,"G_Loss":0.58},{"x":840,"D_Loss":-0.58,"G_Loss":0.50},{"x":845,"D_Loss":-0.54,"G_Loss":0.56},
{"x":850,"D_Loss":-0.48,"G_Loss":0.52},{"x":855,"D_Loss":-0.58,"G_Loss":0.58},{"x":860,"D_Loss":-0.44,"G_Loss":0.46},{"x":865,"D_Loss":-0.56,"G_Loss":0.54},{"x":870,"D_Loss":-0.50,"G_Loss":0.70},{"x":875,"D_Loss":-0.58,"G_Loss":0.52},{"x":880,"D_Loss":-0.50,"G_Loss":0.58},{"x":885,"D_Loss":-0.54,"G_Loss":0.50},{"x":890,"D_Loss":-0.48,"G_Loss":0.56},{"x":895,"D_Loss":-0.60,"G_Loss":0.48},
{"x":900,"D_Loss":-0.52,"G_Loss":0.58},{"x":905,"D_Loss":-0.56,"G_Loss":0.54},{"x":910,"D_Loss":-0.50,"G_Loss":0.62},{"x":915,"D_Loss":-0.60,"G_Loss":0.52},{"x":920,"D_Loss":-0.54,"G_Loss":0.70},{"x":925,"D_Loss":-0.50,"G_Loss":0.56},{"x":930,"D_Loss":-0.58,"G_Loss":0.62},{"x":935,"D_Loss":-0.52,"G_Loss":0.54},{"x":940,"D_Loss":-0.60,"G_Loss":0.66},{"x":945,"D_Loss":-0.54,"G_Loss":0.58},
{"x":950,"D_Loss":-0.50,"G_Loss":0.62},{"x":955,"D_Loss":-0.58,"G_Loss":0.56},{"x":960,"D_Loss":-0.52,"G_Loss":0.60},{"x":965,"D_Loss":-0.46,"G_Loss":0.50},{"x":970,"D_Loss":-0.60,"G_Loss":0.62},{"x":975,"D_Loss":-0.54,"G_Loss":0.68},{"x":980,"D_Loss":-0.62,"G_Loss":0.60},{"x":985,"D_Loss":-0.56,"G_Loss":0.64},{"x":990,"D_Loss":-0.60,"G_Loss":0.58},{"x":995,"D_Loss":-0.62,"G_Loss":0.62},{"x":999,"D_Loss":-0.64,"G_Loss":0.58}
]
},
"resolve":{"scale":{"x":"independent","y":"independent","color":"independent"},"legend":{"color":"independent"}},
"concat":[
{"width":524,"height":254,"data":{"name":"a"},
 "transform":[{"fold":["D_Loss","G_Loss"],"as":["series","loss"]}],
 "title":{"text":"(a) RCGAN losses","orient":"bottom","font":"Liberation Serif","fontSize":28,"fontWeight":"normal","color":"#000","offset":42,"dx":-10},
 "mark":{"type":"line","strokeWidth":1},
 "encoding":{
  "x":{"field":"x","type":"quantitative","scale":{"domain":[-49.95,1048.95],"nice":false,"zero":false},"axis":{"values":[0,200,400,600,800,1000],"format":"d"}},
  "y":{"field":"loss","type":"quantitative","scale":{"domain":[0.5507,0.8652],"nice":false,"zero":false},"axis":{"values":[0.6,0.65,0.7,0.75,0.8,0.85],"format":".2f"}},
  "color":{"field":"series","type":"nominal","scale":{"domain":["D_Loss","G_Loss"],"range":["#1f77b4","#ff7f0e"]}}
 }},
{"width":522,"height":254,"data":{"name":"b"},
 "transform":[{"fold":["D_Loss","G_Loss"],"as":["series","loss"]}],
 "title":{"text":"(b) TimeGAN losses","orient":"bottom","font":"Liberation Serif","fontSize":28,"fontWeight":"normal","color":"#000","offset":42,"dx":-8},
 "mark":{"type":"line","strokeWidth":1},
 "encoding":{
  "x":{"field":"x","type":"quantitative","scale":{"domain":[-49.95,1048.95],"nice":false,"zero":false},"axis":{"values":[0,200,400,600,800,1000],"format":"d"}},
  "y":{"field":"loss","type":"quantitative","scale":{"domain":[0.46,1.361],"nice":false,"zero":false},"axis":{"values":[0.5,0.6,0.7,0.8,0.9,1.0,1.1,1.2,1.3],"format":".1f"}},
  "color":{"field":"series","type":"nominal","scale":{"domain":["D_Loss","G_Loss"],"range":["#1f77b4","#ff7f0e"]}}
 }},
{"width":524,"height":254,"data":{"name":"c"},
 "transform":[{"fold":["D_Loss","G_Loss"],"as":["series","loss"]}],
 "title":{"text":"(c) CWGAN losses","orient":"bottom","font":"Liberation Serif","fontSize":28,"fontWeight":"normal","color":"#000","offset":42,"dx":-10},
 "mark":{"type":"line","strokeWidth":1},
 "encoding":{
  "x":{"field":"x","type":"quantitative","scale":{"domain":[-49.95,1048.95],"nice":false,"zero":false},"axis":{"values":[0,200,400,600,800,1000],"format":"d"}},
  "y":{"field":"loss","type":"quantitative","scale":{"domain":[-0.945,0.951],"nice":false,"zero":false},"axis":{"values":[-0.75,-0.5,-0.25,0,0.25,0.5,0.75],"format":".2f"}},
  "color":{"field":"series","type":"nominal","scale":{"domain":["D_Loss","G_Loss"],"range":["#1f77b4","#ff7f0e"]}}
 }},
{"width":522,"height":254,"data":{"name":"d"},
 "transform":[{"fold":["D_Loss","G_Loss"],"as":["series","loss"]}],
 "title":{"text":"(d) RCWGAN losses","orient":"bottom","font":"Liberation Serif","fontSize":28,"fontWeight":"normal","color":"#000","offset":42,"dx":-8},
 "mark":{"type":"line","strokeWidth":1},
 "encoding":{
  "x":{"field":"x","type":"quantitative","scale":{"domain":[-49.95,1048.95],"nice":false,"zero":false},"axis":{"values":[0,200,400,600,800,1000],"format":"d"}},
  "y":{"field":"loss","type":"quantitative","scale":{"domain":[-1.125,1.099],"nice":false,"zero":false},"axis":{"values":[-1,-0.75,-0.5,-0.25,0,0.25,0.5,0.75,1],"format":".2f"}},
  "color":{"field":"series","type":"nominal","scale":{"domain":["D_Loss","G_Loss"],"range":["#1f77b4","#ff7f0e"]}}
 }}
]
}
